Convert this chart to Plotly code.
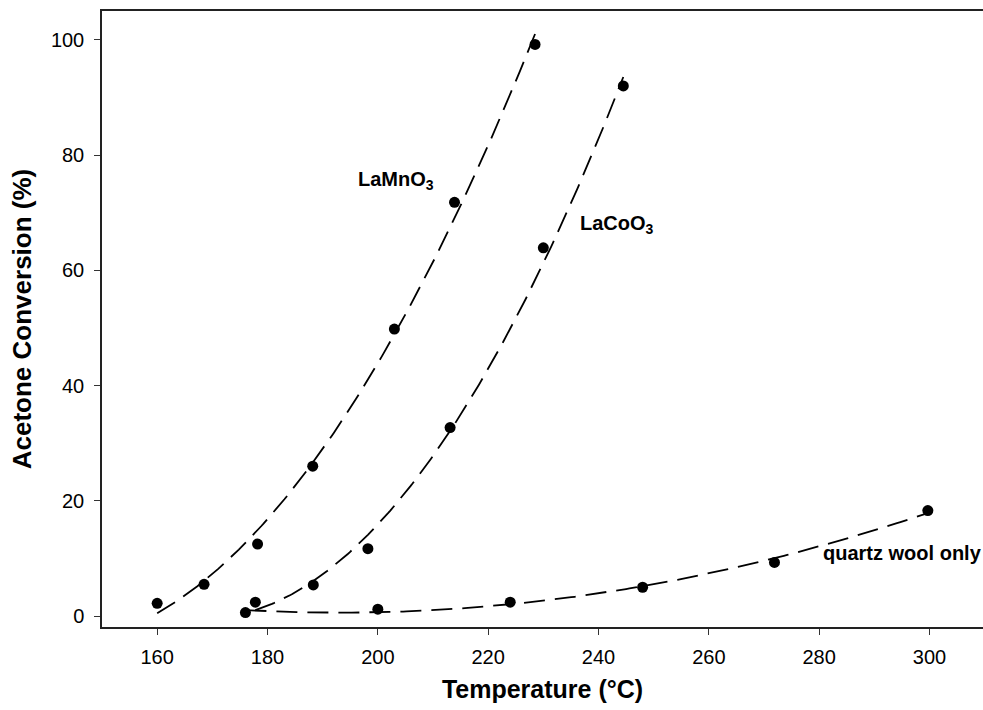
import numpy as np
import plotly.graph_objects as go

# Measured acetone conversion (%) versus reactor temperature (°C)
lamno3_temp = [160.0, 168.5, 178.2, 188.2, 203.0, 213.9, 228.5]
lamno3_conv = [2.2, 5.5, 12.5, 26.0, 49.8, 71.8, 99.2]

lacoo3_temp = [177.8, 188.3, 198.2, 213.1, 230.0, 244.5]
lacoo3_conv = [2.4, 5.4, 11.7, 32.7, 63.9, 92.0]

quartz_temp = [176.0, 200.0, 224.0, 248.0, 271.9, 299.7]
quartz_conv = [0.6, 1.2, 2.4, 5.0, 9.3, 18.3]

x_ticks = [160, 180, 200, 220, 240, 260, 280, 300]
y_ticks = [0, 20, 40, 60, 80, 100]

FONT = "Liberation Sans, Arial, Helvetica, sans-serif"

fig = go.Figure()

series = [
    (lamno3_temp, lamno3_conv),
    (lacoo3_temp, lacoo3_conv),
    (quartz_temp, quartz_conv),
]

for temps, conv in series:
    # second-order polynomial regression through each data set
    coeffs = np.polyfit(temps, conv, 2)
    xs = np.linspace(min(temps), max(temps), 200)
    fig.add_trace(go.Scatter(
        x=xs, y=np.polyval(coeffs, xs), mode="lines",
        line=dict(color="black", width=1.8, dash="21px,10px"),
        hoverinfo="skip", showlegend=False,
    ))
    fig.add_trace(go.Scatter(
        x=temps, y=conv, mode="markers",
        marker=dict(color="black", size=11, line=dict(width=0)),
        showlegend=False,
    ))

label_font = dict(family=FONT, size=20, color="black", weight="bold")
labels = [
    ("LaMnO<sub>3</sub>", 196.0, 75.5),
    ("LaCoO<sub>3</sub>", 236.3, 67.9),
    ("quartz wool only", 280.3, 10.9),
]
for text, x, y in labels:
    fig.add_annotation(text=text, x=x, y=y, xref="x", yref="y",
                       xanchor="left", yanchor="middle", showarrow=False,
                       font=label_font)

fig.update_layout(
    width=983, height=710,
    margin=dict(l=102, r=0, t=11, b=83),
    paper_bgcolor="white", plot_bgcolor="white",
    font=dict(family=FONT, size=20, color="black"),
    xaxis=dict(
        range=[150, 309.7], tickvals=x_ticks, ticks="outside", ticklen=6,
        tickwidth=1, tickcolor="#333", showline=True, linecolor="#222",
        linewidth=1.5, mirror=True, showgrid=False, zeroline=False,
        tickfont=dict(size=20), ticklabelstandoff=5,
        title=dict(text="Temperature (°C)", standoff=14,
                   font=dict(size=25, weight="bold")),
    ),
    yaxis=dict(
        range=[-1.9, 105], tickvals=y_ticks, ticks="outside", ticklen=6,
        tickwidth=1, tickcolor="#333", showline=True, linecolor="#222",
        linewidth=1.5, showgrid=False, zeroline=False,
        tickfont=dict(size=20), ticklabelstandoff=6,
        title=dict(text="Acetone Conversion (%)", standoff=12,
                   font=dict(size=26, weight="bold")),
    ),
)

fig.write_html("out.html")
